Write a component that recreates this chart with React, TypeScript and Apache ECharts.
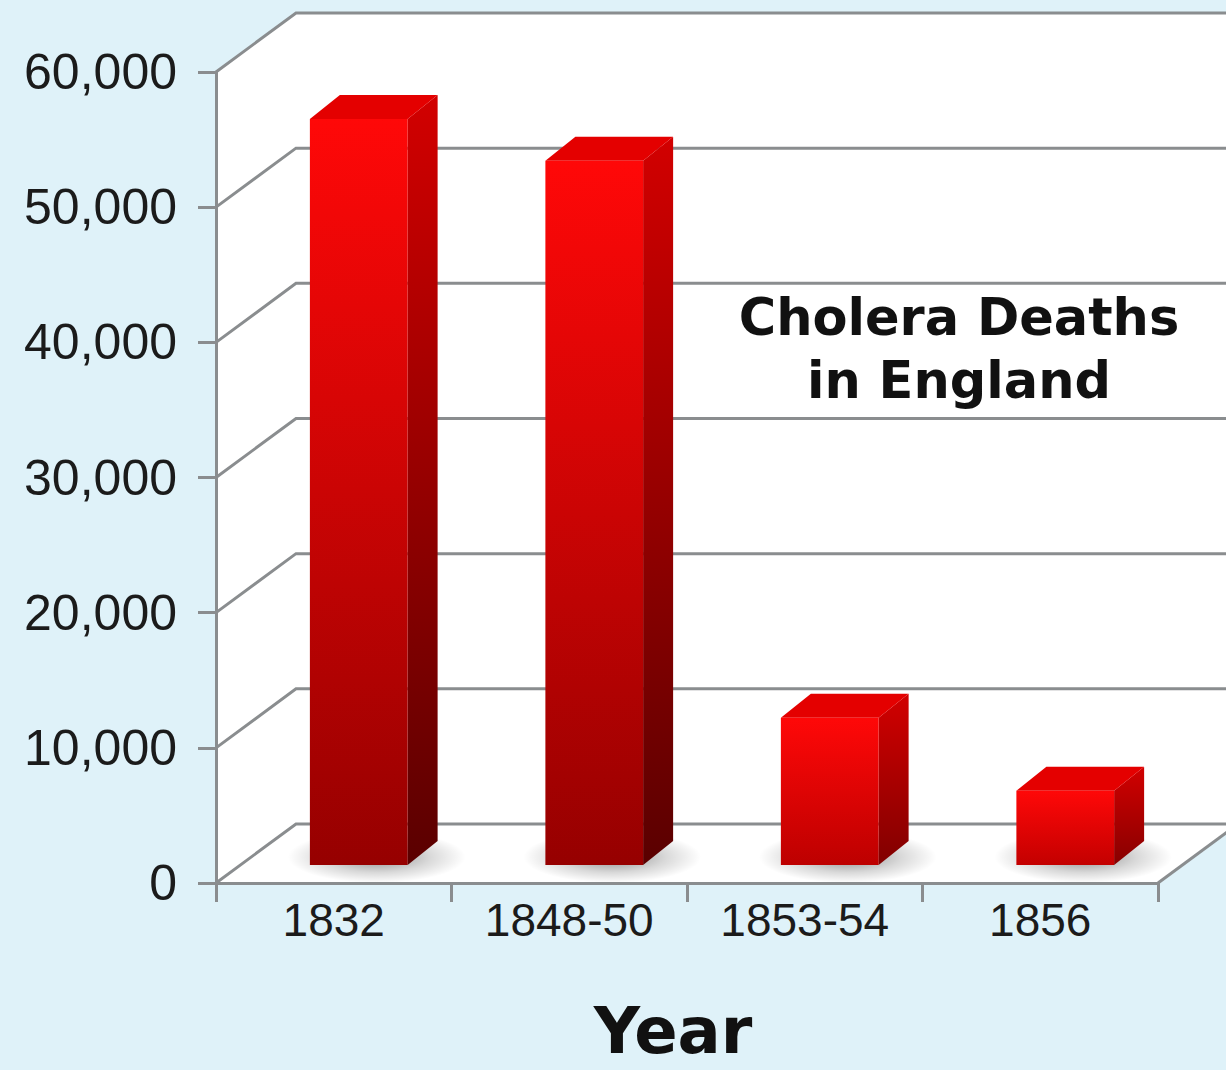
import React, { useEffect, useRef } from "react";
import * as echarts from "echarts";

const CATEGORIES = ["1832", "1848-50", "1853-54", "1856"];
const DEATHS = [55200, 52100, 10900, 5500];
const Y_TICKS = [0, 10000, 20000, 30000, 40000, 50000, 60000];
const TITLE_LINES = ["Cholera Deaths", "in England"];
const X_NAME = "Year";

// styling constants (3D projection)
const DX = 80;
const DY = -59;
const FX = 25;
const FY = -18;
const BDX = 30;
const BDY = -24;
const LINE = "#8a8d8f";

export default function App() {
  const ref = useRef<HTMLDivElement>(null);
  useEffect(() => {
    document.body.style.margin = "0";
    const chart = echarts.init(ref.current!, null, { renderer: "svg" });
    const wallData = [[0, 0]];
    const gridData = Y_TICKS.map((v) => [0, v]);
    const barData = DEATHS.map((v, i) => [i, v]);

    chart.setOption({
      animation: false,
      backgroundColor: "#dff2f9",
      title: {
        text: TITLE_LINES.join("\n"),
        left: 959,
        top: 286,
        padding: 0,
        textAlign: "center",
        textStyle: {
          fontSize: 51,
          fontWeight: "bold",
          fontFamily: "DejaVu Sans",
          color: "#111",
          lineHeight: 63,
        },
      },
      grid: {
        left: 216,
        right: 68,
        top: 72,
        bottom: 187,
        containLabel: false,
        outerBoundsMode: "none",
      },
      xAxis: {
        type: "category",
        data: CATEGORIES,
        z: 10,
        axisLine: { show: true, lineStyle: { color: LINE, width: 3 } },
        axisTick: { show: true, length: 19, lineStyle: { color: LINE, width: 3 } },
        axisLabel: {
          fontSize: 46,
          color: "#1b1b1b",
          fontFamily: "Liberation Sans, Arial",
          margin: 14,
        },
        name: X_NAME,
        nameLocation: "middle",
        nameGap: 116,
        nameTextStyle: {
          fontSize: 64,
          fontWeight: "bold",
          fontFamily: "DejaVu Sans",
          color: "#111",
          padding: [0, 28, 0, 0],
        },
      },
      yAxis: {
        type: "value",
        min: 0,
        max: 60000,
        interval: 10000,
        z: 10,
        axisLine: { show: true, lineStyle: { color: LINE, width: 3 } },
        axisTick: { show: true, length: 18, lineStyle: { color: LINE, width: 3 } },
        axisLabel: {
          fontSize: 50,
          color: "#1b1b1b",
          fontFamily: "Liberation Sans, Arial",
          margin: 39,
          formatter: (v: number) => v.toLocaleString("en-US"),
        },
        splitLine: { show: false },
      },
      series: [
        {
          type: "custom",
          name: "wall",
          z: 1,
          silent: true,
          data: wallData,
          renderItem: (params: any, api: any) => {
            const cs = params.coordSys;
            const x0 = cs.x;
            const x1 = cs.x + cs.width;
            const yt = cs.y;
            const yb = cs.y + cs.height;
            return {
              type: "polygon",
              shape: {
                points: [
                  [x0, yb],
                  [x0, yt],
                  [x0 + DX, yt + DY],
                  [x1 + DX, yt + DY],
                  [x1 + DX, yb + DY],
                  [x1, yb],
                ],
              },
              style: { fill: "#ffffff" },
            };
          },
        },
        {
          type: "custom",
          name: "gridlines",
          z: 2,
          silent: true,
          data: gridData,
          renderItem: (params: any, api: any) => {
            const cs = params.coordSys;
            const x0 = cs.x;
            const x1 = cs.x + cs.width;
            const y = api.coord([0, api.value(1)])[1];
            const children: any[] = [
              {
                type: "polyline",
                shape: {
                  points: [
                    [x0, y],
                    [x0 + DX, y + DY],
                    [x1 + DX, y + DY],
                  ],
                },
                style: { stroke: LINE, lineWidth: 3, fill: "none" },
              },
            ];
            if (api.value(1) === 0) {
              children.push({
                type: "line",
                shape: { x1: x1, y1: y, x2: x1 + DX, y2: y + DY },
                style: { stroke: LINE, lineWidth: 3 },
              });
            }
            return { type: "group", children };
          },
        },
        {
          type: "custom",
          name: "Cholera deaths",
          z: 5,
          data: barData,
          renderItem: (params: any, api: any) => {
            const idx = api.value(0);
            const base = api.coord([idx, 0]);
            const top = api.coord([idx, api.value(1)]);
            const band = api.size([1, 0])[0];
            const w = band * 0.415;
            const L = base[0] - w / 2 + FX;
            const R = L + w;
            const yb = base[1] + FY;
            const yt = top[1] + FY;
            const h = yb - yt;
            const t = Math.min(1, h / 700);
            const botR = Math.round(200 - 50 * t);
            const frontBottom = `rgb(${botR},0,0)`;
            const sideBottom = `rgb(${Math.round(140 - 50 * t)},0,0)`;
            return {
              type: "group",
              children: [
                {
                  type: "ellipse",
                  shape: { cx: (L + R) / 2 + 18, cy: yb - 8, rx: w / 2 + 40, ry: 26 },
                  style: {
                    fill: {
                      type: "radial",
                      x: 0.5,
                      y: 0.5,
                      r: 0.5,
                      colorStops: [
                        { offset: 0, color: "rgba(0,0,0,0.45)" },
                        { offset: 0.6, color: "rgba(0,0,0,0.15)" },
                        { offset: 1, color: "rgba(0,0,0,0)" },
                      ],
                    },
                  },
                },
                {
                  type: "polygon",
                  shape: {
                    points: [
                      [R, yt],
                      [R + BDX, yt + BDY],
                      [R + BDX, yb + BDY],
                      [R, yb],
                    ],
                  },
                  style: {
                    fill: {
                      type: "linear",
                      x: 0,
                      y: 0,
                      x2: 0,
                      y2: 1,
                      colorStops: [
                        { offset: 0, color: "#d20000" },
                        { offset: 1, color: sideBottom },
                      ],
                    },
                  },
                },
                {
                  type: "polygon",
                  shape: {
                    points: [
                      [L, yt],
                      [L + BDX, yt + BDY],
                      [R + BDX, yt + BDY],
                      [R, yt],
                    ],
                  },
                  style: { fill: "#e40000" },
                },
                {
                  type: "rect",
                  shape: { x: L, y: yt, width: w, height: h },
                  style: {
                    fill: {
                      type: "linear",
                      x: 0,
                      y: 0,
                      x2: 0,
                      y2: 1,
                      colorStops: [
                        { offset: 0, color: "#ff0808" },
                        { offset: 1, color: frontBottom },
                      ],
                    },
                  },
                },
              ],
            };
          },
        },
      ],
    });
    return () => chart.dispose();
  }, []);
  return <div ref={ref} style={{ width: 1226, height: 1070 }} />;
}
